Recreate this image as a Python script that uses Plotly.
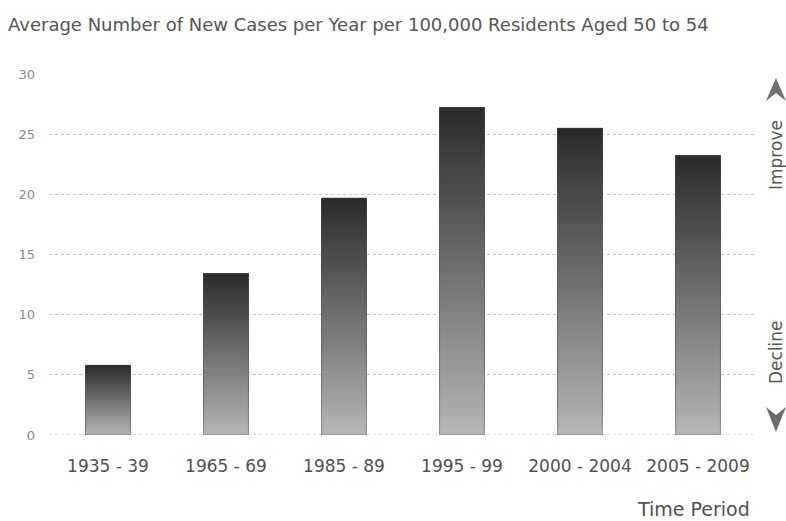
import plotly.graph_objects as go

# ---- data ----
periods = ["1935 - 39", "1965 - 69", "1985 - 89", "1995 - 99", "2000 - 2004", "2005 - 2009"]
cases = [5.8, 13.4, 19.7, 27.2, 25.5, 23.2]
y_ticks = [0, 5, 10, 15, 20, 25, 30]

FONT = "DejaVu Sans"
W, H = 786, 521
L, R, T, B = 49, 29, 74, 86
PW, PH = W - L - R, H - T - B


def px(xw):
    """pixel x -> paper coordinate"""
    return (xw - L) / PW


def py(yw):
    """pixel y -> paper coordinate"""
    return (H - B - yw) / PH


def lerp(c1, c2, t):
    return "rgb(%d,%d,%d)" % tuple(round(a + (b - a) * t) for a, b in zip(c1, c2))


fig = go.Figure()

# gradient bars: overlapping layers, each layer covers from slice i up to the top
N = 48
light, dark = (182, 182, 182), (42, 42, 42)
for i in range(N):
    fig.add_trace(go.Bar(
        x=periods,
        y=[v * (N - i) / N for v in cases],
        base=[v * i / N for v in cases],
        marker=dict(color=lerp(light, dark, (i + 0.5) / N), line=dict(width=0)),
        hoverinfo="skip",
        showlegend=False,
    ))

# thin outline
fig.add_trace(go.Bar(
    x=periods, y=cases,
    marker=dict(color="rgba(0,0,0,0)", line=dict(width=1, color="rgba(80,80,80,0.55)")),
    hovertemplate="%{x}: %{y}<extra></extra>",
    showlegend=False,
))

fig.update_layout(
    width=W, height=H,
    margin=dict(l=L, r=R, t=T, b=B),
    barmode="overlay",
    bargap=0.62,
    plot_bgcolor="white",
    paper_bgcolor="white",
    font=dict(family=FONT, color="#555555"),
    title=dict(
        text="Average Number of New Cases per Year per 100,000 Residents Aged 50 to 54",
        x=8 / W, xanchor="left", xref="container",
        y=1 - 25 / H, yanchor="middle", yref="container",
        font=dict(family=FONT, size=18, color="#555555"),
    ),
    xaxis=dict(
        type="category",
        showgrid=False,
        showline=False,
        zeroline=False,
        ticks="",
        ticklabelstandoff=19,
        tickfont=dict(family=FONT, size=17, color="#505050"),
    ),
    yaxis=dict(
        range=[0, 30],
        tickvals=y_ticks,
        showgrid=True,
        gridcolor="#c4c4c4",
        griddash="dot",
        gridwidth=1,
        zeroline=False,
        showline=False,
        ticks="",
        ticklabelstandoff=13,
        tickfont=dict(family=FONT, size=13, color="#8a8a8a"),
    ),
)

# dashed baseline at 0
fig.add_shape(type="line", xref="paper", yref="y", x0=0, x1=1, y0=0, y1=0,
              line=dict(color="#c4c4c4", width=1, dash="dot"), layer="below")

# axis title
fig.add_annotation(text="Time Period", xref="paper", yref="paper",
                   x=px(752), y=py(509), xanchor="right", yanchor="middle",
                   showarrow=False, font=dict(family=FONT, size=19, color="#505050"))

# side labels
for label, ycen in [("Improve", 155), ("Decline", 352)]:
    fig.add_annotation(text=label, xref="paper", yref="paper",
                       x=px(776), y=py(ycen), xanchor="center", yanchor="middle",
                       textangle=-90, showarrow=False,
                       font=dict(family=FONT, size=17, color="#555555"))


# arrowheads
def arrow(tip, base_y, notch_y, half=10, cx=776):
    pts = [(cx, tip), (cx - half, base_y), (cx, notch_y), (cx + half, base_y)]
    d = "M " + " L ".join("%.4f,%.4f" % (px(a), py(b)) for a, b in pts) + " Z"
    fig.add_shape(type="path", xref="paper", yref="paper", path=d,
                  fillcolor="#6e6e6e", line=dict(width=0))


arrow(78, 101, 93)
arrow(432, 407, 415)

fig.write_html(
    "out.html",
    config={"displayModeBar": False},
    post_script="document.body.style.margin='0';document.body.style.overflow='hidden';",
)
